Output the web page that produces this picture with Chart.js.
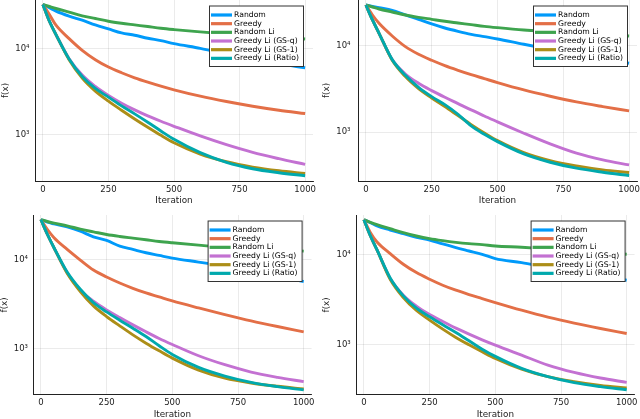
<!DOCTYPE html>
<html>
<head>
<meta charset="utf-8">
<script src="https://cdn.jsdelivr.net/npm/chart.js@4.4.1/dist/chart.umd.min.js"></script>
<style>
  html, body { margin: 0; padding: 0; background: #fff; }
  #wrap { position: relative; width: 640px; height: 419px; overflow: hidden; }
  canvas { position: absolute; }
</style>
</head>
<body>
<div id="wrap">
  <canvas id="c1" width="320" height="210" style="left:0;top:0"></canvas>
  <canvas id="c2" width="320" height="210" style="left:320px;top:0"></canvas>
  <canvas id="c3" width="320" height="209" style="left:0;top:210px"></canvas>
  <canvas id="c4" width="320" height="209" style="left:320px;top:210px"></canvas>
</div>
<script>
const iterations = [0, 25, 50, 100, 150, 200, 250, 300, 350, 400, 450, 500, 600, 700, 800, 900, 1000];
const seriesNames = ['Random', 'Greedy', 'Random Li', 'Greedy Li (GS-q)', 'Greedy Li (GS-1)', 'Greedy Li (Ratio)'];
const xTicks = [0, 250, 500, 750, 1000];
const yTicks = [1000, 10000];
const yTickLabels = ['10³', '10⁴'];

// top left
const p1Random   = [32800, 29970, 27380, 23930, 21480, 18940, 17000, 15260, 14330, 13220, 12410, 11440, 10090, 8740, 7570, 6640, 5990];
const p1Greedy   = [32800, 25030, 18770, 13100, 9560, 7430, 6100, 5234, 4572, 4067, 3651, 3308, 2788, 2414, 2129, 1911, 1747];
const p1RandomLi = [32800, 31060, 29430, 26660, 24150, 22470, 20910, 19810, 18940, 18110, 17310, 16700, 15680, 14850, 14200, 13580, 12980];
const p1GSq      = [32800, 20910, 14590, 7636, 4914, 3619, 2839, 2309, 1928, 1640, 1420, 1241, 956, 756, 615, 519, 445];
const p1GS1      = [32800, 20910, 14590, 7430, 4531, 3191, 2436, 1911, 1512, 1208, 973, 798, 588, 478, 414, 375, 349];
const p1Ratio    = [32800, 20910, 14590, 7566, 4740, 3428, 2714, 2148, 1731, 1382, 1094, 874, 610, 470, 396, 356, 328];

// top right
const p2Random   = [29080, 28080, 27100, 25250, 22320, 19900, 17590, 15820, 14480, 13380, 12580, 11830, 10270, 8995, 7950, 6967, 6210];
const p2Greedy   = [29080, 22320, 17900, 12800, 9654, 7880, 6724, 5837, 5160, 4600, 4139, 3723, 3066, 2593, 2232, 1972, 1759];
const p2RandomLi = [29080, 27580, 26160, 24160, 22320, 20980, 19900, 18880, 18060, 17280, 16530, 15960, 15010, 14360, 13740, 13260, 12800];
const p2GSq      = [29080, 19550, 13740, 6845, 4682, 3658, 3012, 2525, 2136, 1806, 1540, 1315, 974, 734, 574, 481, 421];
const p2GS1      = [29080, 19550, 13740, 6724, 4363, 3176, 2480, 1972, 1554, 1225, 982, 802, 584, 472, 410, 369, 344];
const p2Ratio    = [29080, 19550, 13740, 6845, 4519, 3290, 2570, 2080, 1610, 1183, 948, 781, 564, 452, 386, 347, 318];

// bottom left
const p3Random   = [28280, 26410, 25290, 23410, 20940, 18090, 16460, 14220, 13050, 11980, 11180, 10440, 9417, 8495, 7466, 6565, 5672];
const p3Greedy   = [28280, 21850, 17630, 13050, 9914, 7660, 6397, 5480, 4776, 4234, 3821, 3446, 2877, 2423, 2058, 1778, 1550];
const p3RandomLi = [28280, 26870, 25730, 24030, 22040, 20580, 19210, 18250, 17480, 16750, 16040, 15500, 14590, 13860, 13390, 12940, 12500];
const p3GSq      = [28280, 19210, 13620, 7152, 4536, 3417, 2733, 2242, 1856, 1550, 1305, 1118, 835, 662, 548, 478, 427];
const p3GS1      = [28280, 19210, 13620, 7031, 4383, 3029, 2301, 1810, 1434, 1157, 949, 786, 577, 469, 413, 379, 354];
const p3Ratio    = [28280, 19210, 13620, 7277, 4654, 3301, 2596, 2094, 1703, 1374, 1080, 864, 618, 494, 420, 376, 345];

// bottom right
const p4Random   = [24220, 22450, 20620, 18630, 16970, 15470, 14450, 13060, 11900, 10930, 10040, 8995, 8128, 7157, 6412, 5793, 5189];
const p4Greedy   = [24220, 17410, 13740, 10210, 7789, 6303, 5322, 4569, 4025, 3606, 3258, 2942, 2422, 2028, 1741, 1520, 1339];
const p4RandomLi = [24220, 22640, 21330, 19270, 17410, 16000, 14950, 14210, 13620, 13170, 12840, 12410, 12000, 11500, 11020, 10480, 10040];
const p4GSq      = [24220, 16000, 11210, 5414, 3545, 2682, 2170, 1816, 1533, 1317, 1140, 996, 772, 599, 497, 431, 386];
const p4GS1      = [24220, 16000, 11210, 5322, 3341, 2402, 1879, 1495, 1210, 1004, 841, 710, 541, 446, 393, 357, 334];
const p4Ratio    = [24220, 16000, 11210, 5506, 3485, 2548, 2045, 1669, 1374, 1112, 899, 747, 551, 446, 383, 346, 320];

const seriesColors = ['#009AFA', '#E36F47', '#3EA44E', '#C371D2', '#AC8E18', '#00A9AD'];
const FONT = '"DejaVu Sans", sans-serif';

// legend box drawn inside the plot, top right
const insideLegend = {
  id: 'insideLegend',
  afterDatasetsDraw(chart) {
    const { ctx, chartArea } = chart;
    const w = 94, h = 60.5;
    const x0 = chartArea.right - 9.5 - w;
    const y0 = chartArea.top + 6;
    ctx.save();
    ctx.fillStyle = '#fff';
    ctx.fillRect(x0, y0, w, h);
    ctx.strokeStyle = '#333';
    ctx.lineWidth = 1;
    ctx.strokeRect(x0, y0, w, h);
    ctx.font = '7.7px ' + FONT;
    ctx.textBaseline = 'middle';
    chart.data.datasets.forEach((ds, i) => {
      const yy = y0 + 9 + i * 8.67;
      ctx.strokeStyle = ds.borderColor;
      ctx.lineWidth = 3.2;
      ctx.beginPath();
      ctx.moveTo(x0 + 1.5, yy);
      ctx.lineTo(x0 + 22.5, yy);
      ctx.stroke();
      ctx.fillStyle = '#000';
      ctx.fillText(ds.label, x0 + 24.5, yy);
    });
    ctx.restore();
  }
};

function makeChart(p) {
  const datasets = seriesNames.map((name, i) => ({
    label: name,
    data: iterations.map((x, j) => ({ x: x, y: p.series[i][j] })),
    borderColor: seriesColors[i],
    backgroundColor: seriesColors[i],
    borderWidth: 2.9,
    pointRadius: 0,
    cubicInterpolationMode: 'monotone',
    order: seriesNames.length - i
  }));

  new Chart(document.getElementById(p.id), {
    type: 'line',
    data: { datasets },
    options: {
      responsive: false,
      animation: false,
      layout: { padding: { left: 0, right: p.padRight, top: p.padTop, bottom: 0 } },
      plugins: { legend: { display: false }, tooltip: { enabled: false } },
      scales: {
        x: {
          type: 'linear',
          min: -30,
          max: 1030,
          afterBuildTicks: s => { s.ticks = xTicks.map(v => ({ value: v })); },
          afterFit: s => { s.height = p.xHeight; s.paddingLeft = 0; s.paddingRight = 0; },
          grid: { color: 'rgba(0,0,0,0.1)', lineWidth: 0.8, drawTicks: false },
          border: { color: '#222', width: 1 },
          ticks: {
            padding: p.xLabelPad, color: '#222', maxRotation: 0, autoSkip: false,
            font: { family: FONT, size: 8.5 },
            callback: v => String(v)
          },
          title: {
            display: true, text: 'Iteration', color: '#222',
            font: { family: FONT, size: 8.8, lineHeight: 1 },
            padding: { top: 0, bottom: p.xTitlePad }
          }
        },
        y: {
          type: 'logarithmic',
          min: p.yMin,
          max: p.yMax,
          afterBuildTicks: s => { s.ticks = yTicks.map(v => ({ value: v })); },
          afterFit: s => { s.width = p.yWidth; s.paddingTop = 0; s.paddingBottom = 0; },
          grid: { color: 'rgba(0,0,0,0.1)', lineWidth: 0.8, drawTicks: false },
          border: { color: '#222', width: 1 },
          ticks: {
            padding: p.yLabelPad, color: '#222', font: { family: FONT, size: 8.5 },
            callback: v => yTickLabels[yTicks.indexOf(v)]
          },
          title: {
            display: true, text: 'f(x)', color: '#222',
            font: { family: FONT, size: 8.8, lineHeight: 1 },
            padding: { top: p.yTitlePad, bottom: 0 }
          }
        }
      }
    },
    plugins: [insideLegend]
  });
}

const panels = [
  { id: 'c1', series: [p1Random, p1Greedy, p1RandomLi, p1GSq, p1GS1, p1Ratio],
    yMin: 285, yMax: 36980, yWidth: 35, padRight: 7, padTop: 0, xHeight: 29,
    xLabelPad: 3.9, xTitlePad: 4.6, yLabelPad: 5.5, yTitlePad: 1.6 },
  { id: 'c2', series: [p2Random, p2Greedy, p2RandomLi, p2GSq, p2GS1, p2Ratio],
    yMin: 275, yMax: 33190, yWidth: 38, padRight: 3, padTop: 0, xHeight: 29,
    xLabelPad: 3.9, xTitlePad: 4.6, yLabelPad: 7.5, yTitlePad: 2.3 },
  { id: 'c3', series: [p3Random, p3Greedy, p3RandomLi, p3GSq, p3GS1, p3Ratio],
    yMin: 305, yMax: 31800, yWidth: 33, padRight: 8.4, padTop: 5, xHeight: 24.3,
    xLabelPad: 3.2, xTitlePad: 0, yLabelPad: 5, yTitlePad: 0 },
  { id: 'c4', series: [p4Random, p4Greedy, p4RandomLi, p4GSq, p4GS1, p4Ratio],
    yMin: 282, yMax: 27300, yWidth: 36, padRight: 5.4, padTop: 5, xHeight: 24.3,
    xLabelPad: 3.2, xTitlePad: 0, yLabelPad: 5.3, yTitlePad: 2.3 }
];

panels.forEach(makeChart);
</script>
</body>
</html>
